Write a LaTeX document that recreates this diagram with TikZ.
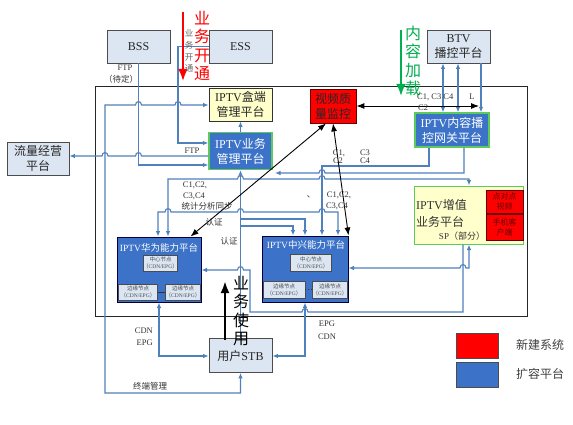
\documentclass[tikz,border=0pt]{standalone}
\usepackage{fontspec}
\setmainfont{Liberation Serif}
\newfontfamily\cjk{Noto Sans CJK SC}
\newfontfamily\lat{Liberation Serif}
\usetikzlibrary{arrows.meta}
\definecolor{lb}{HTML}{DCE6F2}
\definecolor{pblue}{HTML}{3C73C8}
\definecolor{lineblue}{HTML}{4F81BD}
\definecolor{pyel}{HTML}{FFFFCC}
\definecolor{pgreen}{HTML}{00B050}
\definecolor{bgreen}{HTML}{5CCB5C}
\definecolor{txt}{HTML}{333333}
\newcommand\hopR[2]{-- (#1-3,#2) .. controls (#1-3,#2-4.5) and (#1+3,#2-4.5) .. (#1+3,#2)}
\newcommand\hopL[2]{-- (#1+3,#2) .. controls (#1+3,#2-4.5) and (#1-3,#2-4.5) .. (#1-3,#2)}
\begin{document}
\begin{tikzpicture}[x=1pt,y=-1pt,
  bt/.tip={Latex[length=5.5pt,width=4.5pt]},
  kt/.tip={Latex[length=8pt,width=6pt]},
  base/.style={inner sep=0pt, align=center, font=\cjk\fontsize{12}{15}\selectfont},
  gbox/.style={base, draw=black!70, line width=0.8pt, fill=lb, text=black!85},
  ybox/.style={base, draw=black!80, line width=0.8pt, fill=pyel, text=black!85},
  bbox/.style={base, draw=bgreen, line width=1.2pt, fill=pblue, text=white},
  rbox/.style={base, draw=red!40!black, line width=0.8pt, fill=red, text=black!85},
  pbox/.style={base, draw=blue!25!black, line width=1pt, fill=pblue},
  nbox/.style={base, draw=black!70, line width=0.6pt, fill=lb, text=black!70, font=\cjk\fontsize{5.5}{7}\selectfont},
  smred/.style={base, draw=red!40!black, line width=0.8pt, fill=red, text=red!40!black, font=\cjk\fontsize{8}{10}\selectfont},
  lab/.style={inner sep=0pt, text=txt, align=center, font=\cjk\fontsize{8.5}{10.5}\selectfont},
  llab/.style={inner sep=0pt, text=txt, font=\lat\fontsize{8.5}{10.5}\selectfont},
  conn/.style={draw=lineblue, line width=1.1pt},
  blk/.style={draw=black, line width=0.9pt},
  vtext/.style={inner sep=0pt, align=center, font=\cjk\fontsize{16}{18.3}\selectfont}
]
\useasboundingbox (0,0) rectangle (573,425);
\fill[white] (0,0) rectangle (573,425);

% frame
\draw[black!85, line width=0.8pt] (95,86) rectangle (527,316);

% nodes
\node[gbox, minimum width=63pt, minimum height=33pt] (bss) at (138.5,46.5) {\lat BSS};
\node[gbox, minimum width=63pt, minimum height=33pt] (ess) at (240.5,46.5) {\lat ESS};
\node[gbox, minimum width=63pt, minimum height=33pt] (btv) at (458.5,46.5) {{\lat BTV}\\播控平台};
\node[ybox, minimum width=63pt, minimum height=33pt] (he) at (240.5,104.5) {{\lat IPTV}盒端\\管理平台};
\node[bbox, minimum width=63pt, minimum height=37pt] (yw) at (240.5,151) {{\lat IPTV}业务\\管理平台};
\node[rbox, minimum width=46pt, minimum height=34pt] (sp) at (333,106) {视频质\\量监控};
\node[bbox, minimum width=74pt, minimum height=34pt] (nr) at (452,130) {{\lat IPTV}内容播\\控网关平台};
\node[gbox, minimum width=62pt, minimum height=33pt] (ll) at (38,158.5) {流量经营\\平台};
\node[ybox, draw=bgreen, line width=1pt, minimum width=109pt, minimum height=58pt] (zz) at (468.5,215) {};
\node[base, anchor=west, align=left, text=txt, font=\cjk\fontsize{12}{17}\selectfont] (zzt) at (416,213.5) {{\lat IPTV}增值\\业务平台};
\node[lab, font=\cjk\fontsize{9}{11}\selectfont] (zzsp) at (462,236) {{\lat SP}（部分）};
\node[smred, minimum width=37pt, minimum height=23pt] (p2p) at (504.5,201.5) {点对点\\视频};
\node[smred, minimum width=37pt, minimum height=26pt] (mob) at (504.5,227) {手机客\\户端};

\node[pbox, minimum width=84pt, minimum height=65pt] (hw) at (159,269.5) {};
\node[base, text=white, font=\cjk\fontsize{9.5}{11}\selectfont] (hwt) at (159,248) {{\lat IPTV}华为能力平台};
\node[nbox, minimum width=34pt, minimum height=16pt] (hwc) at (160.5,263) {中心节点\\（{\lat CDN/EPG}）};
\node[nbox, minimum width=39pt, minimum height=16pt] (hwe1) at (138,292) {边缘节点\\（{\lat CDN/EPG}）};
\node[nbox, minimum width=32pt, minimum height=16pt] (hwe2) at (183,292) {边缘节点\\（{\lat CDN/EPG}）};
\draw[black!80, line width=0.6pt] (hwe1.east) -- (hwe2.west);

\node[pbox, minimum width=86pt, minimum height=66pt] (zx) at (305,269) {};
\node[base, text=white, font=\cjk\fontsize{9.5}{11}\selectfont] (zxt) at (306,245) {{\lat IPTV}中兴能力平台};
\node[nbox, minimum width=41pt, minimum height=17pt] (zxc) at (311,262.5) {中心节点\\（{\lat CDN/EPG}）};
\node[nbox, minimum width=42pt, minimum height=17pt] (zxe1) at (284,289.5) {边缘节点\\（{\lat CDN/EPG}）};
\node[nbox, minimum width=33pt, minimum height=17pt] (zxe2) at (330,289.5) {边缘节点\\（{\lat CDN/EPG}）};
\draw[black!80, line width=0.7pt, dotted] (zxe1.east) -- (zxe2.west);

\node[gbox, minimum width=63pt, minimum height=34pt] (stb) at (240.5,355.5) {用户{\lat STB}};

% legend
\node[draw=black!70, line width=0.8pt, fill=red, minimum width=42pt, minimum height=25pt, inner sep=0pt] (lgr) at (477,345.5) {};
\node[draw=black!70, line width=0.8pt, fill=pblue, minimum width=42pt, minimum height=25pt, inner sep=0pt] (lgb) at (477,374.5) {};
\node[lab, text=black!75, font=\cjk\fontsize{12}{14}\selectfont] (lgrt) at (540,345) {新建系统};
\node[lab, text=black!75, font=\cjk\fontsize{12}{14}\selectfont] (lgbt) at (540,374) {扩容平台};

% named free points
\coordinate (e173) at (275,173);
\coordinate (j219) at (240.5,219);
\coordinate (j226) at (240.5,226);
\coordinate (lend) at (479,106);

% blue connectors
\draw[conn,-bt] (ess.west) -- (178,46.5) -- (178,143) -- (yw.west |- 0,143);
\draw[conn,-bt] (bss.south) -- (138.5,165) -- (yw.west |- 0,165);
\draw[conn,-bt] (yw.west |- 0,156) \hopL{138.5}{156} \hopL{105}{156} -- (ll.east |- 0,156);
\draw[conn,bt-bt] (he.west |- 0,105) \hopL{178}{105} \hopL{138.5}{105} -- (105,105) -- (105,393) -- (240.5,393) -- (stb.south);
\draw[conn,-bt] (yw.north) -- (he.south);
\draw[conn,-bt] (stb.north) -- (yw.south);
\draw[conn,-bt] (nr.south -| 429,0) -- (429,166) -- (322,166) -- (zx.north -| 322,0);
\draw[conn,-bt] (nr.south -| 464,0) -- (464,173) \hopL{322}{173} -- (e173);
\draw[conn,bt-bt] (hw.north -| 168,0) -- (168,179) \hopR{240.5}{179} \hopR{322}{179} -- (469,179) -- (zz.north -| 469,0);
\draw[conn,bt-bt] (hw.north -| 158,0) -- (158,212) \hopR{168}{212} \hopR{240.5}{212} \hopR{322}{212} -- (338,212) -- (zx.north -| 338,0);
\draw[conn,-bt] (j219) -- (305,219) -- (zx.north -| 305,0);
\draw[conn,-bt] (j226) -- (293,226) -- (zx.north -| 293,0);
\draw[conn,bt-bt] (zz.south -| 469,0) -- (469,268) \hopL{463}{268} -- (zx.east |- 0,268);
\draw[conn,-bt] (zz.south -| 463,0) -- (463,312) \hopL{305}{312} -- (250,312) -- (250,270) \hopL{240.5}{270} -- (hw.east |- 0,270);
\draw[conn,bt-bt] (hw.south -| 159,0) -- (159,356) -- (stb.west |- 0,356);
\draw[conn,bt-bt] (zx.south -| 305,0) -- (305,356) -- (stb.east |- 0,356);
\draw[conn,bt-bt] (btv.south -| 443,0) -- (nr.north -| 443,0);
\draw[conn,bt-bt] (btv.south -| 458,0) -- (nr.north -| 458,0);
\draw[conn,-bt] (btv.south -| 481,0) -- (nr.north -| 481,0);

% black connectors
\draw[blk,kt-kt] (sp.east) -- (lend);
\draw[blk,kt-kt] ([xshift=-7pt]sp.south) -- ([xshift=-11pt]hw.north east);
\draw[blk,kt-kt] (sp.south) -- (zx.north east);

% big arrows
\coordinate (ra1) at (183,12); \coordinate (ra2) at (183,81);
\coordinate (ga1) at (401,30); \coordinate (ga2) at (401,96);
\coordinate (ka1) at (225,340); \coordinate (ka2) at (225,281);
\draw[red, line width=2.6pt, -{Latex[length=12pt,width=10pt]}] (ra1) -- (ra2);
\draw[pgreen, line width=2.6pt, -{Latex[length=12pt,width=10pt]}] (ga1) -- (ga2);
\draw[black, line width=2.6pt, -{Latex[length=12pt,width=9pt]}] (ka1) -- (ka2);

% vertical texts
\node[vtext, text=red] (t1) at (202,46) {业\\务\\开\\通};
\node[vtext, text=black!60, font=\cjk\fontsize{8.5}{11.7}\selectfont] (t1s) at (189,51) {业\\务\\开\\通};
\node[vtext, text=pgreen] (t2) at (413,61) {内\\容\\加\\载};
\node[vtext, text=black] (t3) at (241,311) {业\\务\\使\\用};

% labels
\node[llab] (f1) at (125,68) {FTP};
\node[lab] (f2) at (121,79) {（待定）};
\node[llab] (f3) at (192,151) {FTP};
\node[llab, anchor=west] (c1) at (417,97) {C1, C3 C4};
\node[llab, anchor=west] (c2) at (418,108) {C2};
\node[llab] (lL) at (472,97) {L};
\node[llab] (c3) at (339,153) {C1,};
\node[llab] (c4) at (365,153) {C3};
\node[llab] (c5) at (338,161) {C2};
\node[llab] (c6) at (365,161) {C4};
\node[llab] (c7) at (339,195) {C1,C2,};
\node[llab] (c8) at (337,206) {C3,C4};
\node[llab] (c9) at (195,185) {C1,C2,};
\node[llab] (c10) at (194,196) {C3,C4};
\node[lab] (s1) at (207,206) {统计分析同步};
\node[lab] (r1) at (214,222) {认证};
\node[lab] (r2) at (229,241) {认证};
\node[lab] (dun) at (311,197) {、};
\node[llab, anchor=east] (cd1) at (153,331) {CDN};
\node[llab, anchor=east] (ep1) at (153,343) {EPG};
\node[llab] (ep2) at (327,324) {EPG};
\node[llab] (cd2) at (327,337) {CDN};
\node[lab] (zd) at (150,386) {终端管理};
\end{tikzpicture}
\end{document}
